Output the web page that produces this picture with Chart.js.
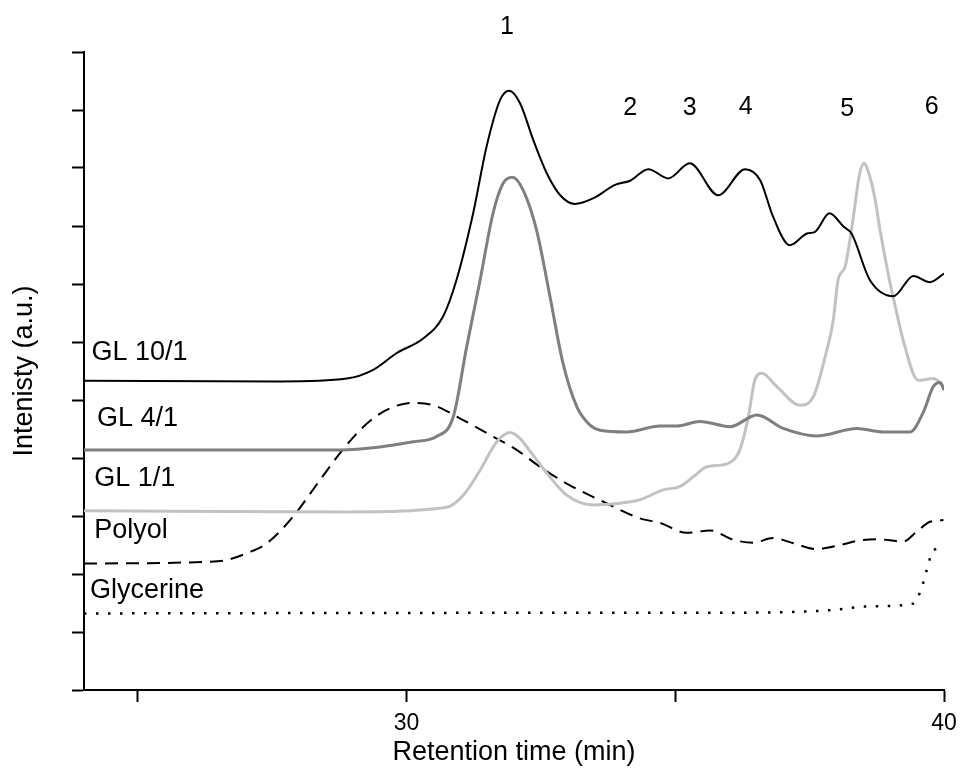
<!DOCTYPE html>
<html>
<head>
<meta charset="utf-8">
<script src="https://cdn.jsdelivr.net/npm/chart.js@4/dist/chart.umd.min.js"></script>
<style>
  html, body { margin: 0; padding: 0; background: #fff; }
  #wrap { width: 961px; height: 783px; position: relative; }
</style>
</head>
<body>
<div id="wrap"><canvas id="grafico"></canvas></div>
<script>
// retention time (min) / intensity (a.u.)
const gl10Time = [24.00, 27.65, 28.89, 29.38, 29.82, 30.31, 30.68, 30.93, 31.24, 31.49, 31.74, 31.91, 32.11, 32.36, 32.61, 32.86, 33.13, 33.48, 33.88, 34.16, 34.50, 34.87, 35.27, 35.80, 36.30, 36.58, 36.82, 37.13, 37.45, 37.60, 37.87, 38.13, 38.28, 38.62, 39.06, 39.43, 39.74, 40.00];
const gl10Int  = [5.33, 5.32, 5.37, 5.52, 5.81, 6.06, 6.44, 7.07, 8.22, 9.37, 10.17, 10.33, 10.12, 9.48, 8.91, 8.53, 8.38, 8.48, 8.71, 8.78, 8.98, 8.82, 9.08, 8.53, 8.98, 8.79, 8.16, 7.67, 7.87, 7.90, 8.22, 7.99, 7.87, 7.07, 6.79, 7.14, 7.03, 7.18];

const gl4Time = [24.00, 28.76, 29.51, 30.13, 30.56, 30.87, 31.12, 31.37, 31.61, 31.80, 31.97, 32.17, 32.42, 32.67, 32.91, 33.17, 33.41, 33.60, 34.10, 34.72, 35.03, 35.46, 36.02, 36.52, 37.01, 37.63, 38.38, 38.87, 39.37, 39.62, 39.80, 39.93, 40.00];
const gl4Int  = [4.14, 4.14, 4.19, 4.28, 4.37, 4.71, 5.92, 7.07, 8.22, 8.74, 8.84, 8.62, 7.93, 6.78, 5.64, 4.88, 4.57, 4.48, 4.45, 4.55, 4.55, 4.63, 4.54, 4.74, 4.51, 4.38, 4.51, 4.45, 4.45, 4.80, 5.23, 5.30, 5.17];

const gl1Time = [24.00, 28.89, 30.75, 31.06, 31.37, 31.68, 31.93, 32.11, 32.24, 32.61, 32.98, 33.48, 33.97, 34.34, 34.78, 35.09, 35.34, 35.59, 35.96, 36.20, 36.36, 36.48, 36.61, 36.89, 37.32, 37.57, 37.79, 37.94, 38.03, 38.16, 38.25, 38.34, 38.42, 38.51, 38.62, 38.72, 38.81, 38.96, 39.15, 39.24, 39.52, 39.80, 40.00];
const gl1Int  = [3.09, 3.07, 3.15, 3.36, 3.79, 4.28, 4.44, 4.34, 4.19, 3.74, 3.36, 3.19, 3.22, 3.28, 3.45, 3.51, 3.68, 3.85, 3.90, 4.14, 4.71, 5.34, 5.46, 5.23, 4.91, 5.06, 5.75, 6.38, 7.07, 7.30, 7.76, 8.33, 8.85, 9.08, 8.85, 8.45, 7.93, 7.18, 6.38, 6.03, 5.34, 5.37, 5.23];

const polyolTime = [24.00, 26.28, 26.65, 27.03, 27.40, 27.89, 28.39, 28.76, 29.20, 29.63, 30.13, 30.50, 31.00, 31.61, 32.05, 32.48, 32.98, 33.72, 34.34, 34.72, 35.21, 35.65, 36.08, 36.45, 36.82, 37.20, 37.63, 38.07, 38.38, 38.75, 39.24, 39.49, 39.74, 39.99];
const polyolInt  = [2.18, 2.21, 2.24, 2.36, 2.53, 2.99, 3.62, 4.08, 4.54, 4.83, 4.95, 4.91, 4.68, 4.37, 4.14, 3.85, 3.56, 3.22, 2.96, 2.88, 2.71, 2.75, 2.59, 2.54, 2.62, 2.53, 2.43, 2.50, 2.57, 2.60, 2.56, 2.73, 2.90, 2.93];

const glycTime = [24.00, 31.74, 35.46, 37.32, 37.94, 38.56, 39.43, 39.58, 39.68, 39.80, 39.98];
const glycInt  = [1.32, 1.33, 1.33, 1.35, 1.38, 1.44, 1.49, 1.75, 2.07, 2.41, 2.44];

// curve names written at the left, and peak numbers above the peaks
const serieNomes = ['GL 10/1', 'GL 4/1', 'GL 1/1', 'Polyol', 'Glycerine'];
const serieNomeX = [24.14, 24.24, 24.19, 24.19, 24.11];
const serieNomeY = [5.69, 4.55, 3.52, 2.62, 1.58];

const picoNomes = ['1', '2', '3', '4', '5', '6'];
const picoX = [31.87, 34.16, 35.27, 36.31, 38.20, 39.77];
const picoY = [11.43, 10.03, 10.03, 10.05, 10.02, 10.05];

const xTicksComLabel = [30, 40];

function pontos(xs, ys) {
    return xs.map((x, i) => ({ x: x, y: ys[i] }));
}

const FONTE = "'Liberation Sans', Arial, sans-serif";

// texts drawn inside the plot (curve names and peak numbers)
const textosPlugin = {
    id: 'textos',
    afterDatasetsDraw(chart) {
        const ctx = chart.ctx;
        const xs = chart.scales.x;
        const ys = chart.scales.y;
        ctx.save();
        ctx.fillStyle = '#000';
        ctx.font = '27px ' + FONTE;
        ctx.textAlign = 'left';
        ctx.textBaseline = 'alphabetic';
        serieNomes.forEach((t, i) => {
            ctx.fillText(t, xs.getPixelForValue(serieNomeX[i]), ys.getPixelForValue(serieNomeY[i]));
        });
        ctx.font = '25px ' + FONTE;
        ctx.textAlign = 'center';
        ctx.textBaseline = 'middle';
        picoNomes.forEach((t, i) => {
            ctx.fillText(t, xs.getPixelForValue(picoX[i]), ys.getPixelForValue(picoY[i]));
        });
        ctx.restore();
    }
};

const linhaComum = {
    pointRadius: 0,
    fill: false,
    cubicInterpolationMode: 'monotone'
};

new Chart(document.getElementById('grafico').getContext('2d'), {
    type: 'line',
    data: {
        datasets: [
            { ...linhaComum, label: 'GL 10/1', data: pontos(gl10Time, gl10Int), borderColor: '#000000', borderWidth: 2 },
            { ...linhaComum, label: 'GL 4/1', data: pontos(gl4Time, gl4Int), borderColor: '#7f7f7f', borderWidth: 3 },
            { ...linhaComum, label: 'GL 1/1', data: pontos(gl1Time, gl1Int), borderColor: '#c2c2c2', borderWidth: 3 },
            { ...linhaComum, label: 'Polyol', data: pontos(polyolTime, polyolInt), borderColor: '#000000', borderWidth: 2, borderDash: [13, 8] },
            { ...linhaComum, label: 'Glycerine', data: pontos(glycTime, glycInt), borderColor: '#000000', borderWidth: 2.5, borderDash: [2.5, 9.5] }
        ]
    },
    options: {
        responsive: true,
        maintainAspectRatio: false,
        animation: false,
        layout: { padding: { top: 52, right: 17, left: 0, bottom: 0 } },
        plugins: {
            legend: { display: false },
            tooltip: { enabled: false }
        },
        scales: {
            x: {
                type: 'linear',
                min: 24,
                max: 40,
                afterFit: (s) => { s.height = 93; s.paddingRight = 0; s.paddingLeft = 0; },
                border: { display: true, color: '#000', width: 2 },
                grid: { drawOnChartArea: false, drawTicks: true, tickLength: 12, tickColor: '#000', tickWidth: 2 },
                ticks: {
                    stepSize: 5,
                    includeBounds: false,
                    autoSkip: false,
                    maxRotation: 0,
                    padding: 8,
                    color: '#000',
                    font: { family: FONTE, size: 23 },
                    callback: (v) => (xTicksComLabel.includes(v) ? String(v) : '')
                },
                title: {
                    display: true,
                    text: 'Retention time (min)',
                    color: '#000',
                    font: { family: FONTE, size: 27 },
                    padding: { top: 0, bottom: 14 }
                }
            },
            y: {
                type: 'linear',
                min: 0,
                max: 11,
                afterFit: (s) => { s.width = 84; },
                border: { display: true, color: '#000', width: 2 },
                grid: { drawOnChartArea: false, drawTicks: true, tickLength: 12, tickColor: '#000', tickWidth: 2 },
                ticks: { stepSize: 1, display: false },
                title: {
                    display: true,
                    text: 'Intenisty (a.u.)',
                    color: '#000',
                    font: { family: FONTE, size: 27 },
                    padding: { top: 8, bottom: 0 }
                }
            }
        }
    },
    plugins: [textosPlugin]
});
</script>
</body>
</html>
